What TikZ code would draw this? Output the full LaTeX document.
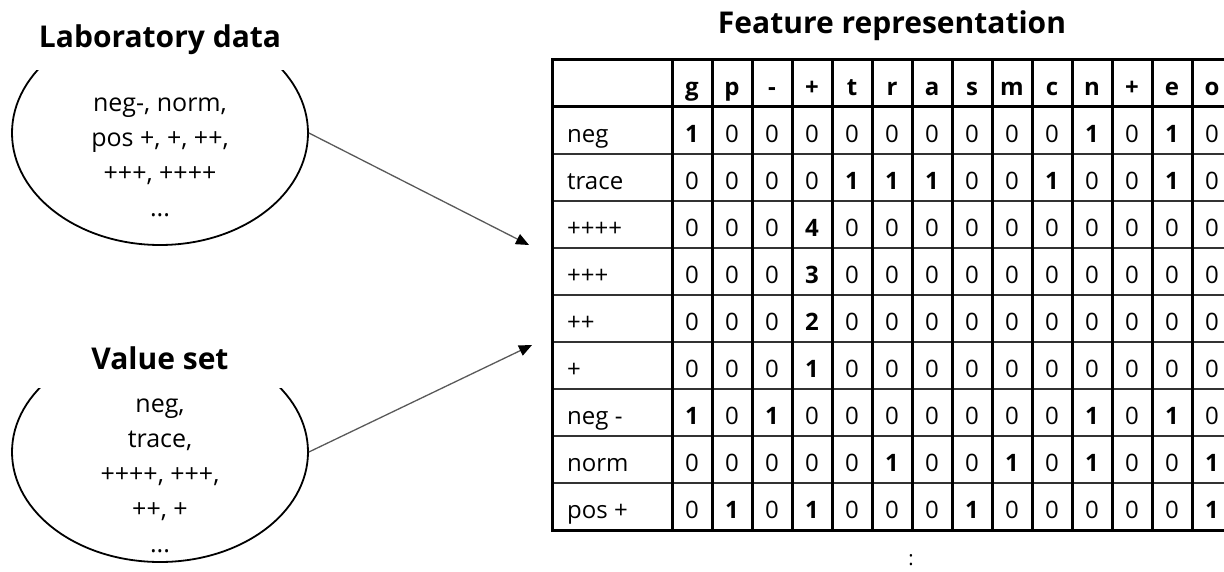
\documentclass[tikz,border=0pt]{standalone}
\usepackage{fontspec}
\setmainfont{Open Sans}
\usetikzlibrary{shapes.geometric, arrows.meta}

\tikzstyle{setbox} = [
    ellipse,
    minimum width=296pt,
    minimum height=224pt,
    inner sep=0pt,
    line width=1.8pt,
    draw=black
]
\tikzstyle{settitle} = [
    minimum width=248pt,
    minimum height=60pt,
    fill=white,
    font=\bfseries\fontsize{30}{36}\selectfont
]
\tikzstyle{settext} = [
    align=center,
    font=\fontsize{25}{35}\selectfont
]
\tikzstyle{gridline} = [line width=3pt, draw=black]
\tikzstyle{rowline} = [line width=1.8pt, draw=black!80]
\tikzstyle{colhead} = [anchor=base, font=\bfseries\fontsize{24}{28}\selectfont]
\tikzstyle{rowlabel} = [anchor=base west, inner sep=0pt, font=\fontsize{24}{28}\selectfont]
\tikzstyle{cellval} = [anchor=base, inner sep=0pt, font=\fontsize{24}{28}\selectfont]
\tikzstyle{arrow} = [line width=1.3pt, draw=black!65, -{Triangle[length=13pt,width=11pt,color=black]}]

% nonzero entries are set in bold
\newcommand{\bitval}[1]{\ifnum#1=0 0\else\textbf{#1}\fi}
% one table row: index, label, 14 values
\newcommand{\featrow}[3]{%
  \node (r#1) [rowlabel] at (567, {475.5-47*#1}) {#2};
  \foreach \v [count=\c] in {#3}
    \node (r#1c\c) [cellval] at ({652+40*\c}, {475.5-47*#1}) {\bitval{\v}};
}

\begin{document}
\begin{tikzpicture}[x=1pt, y=1pt]
\clip (0,0) rectangle (1224,571);

% left: the two sets
\node (lab) [setbox] at (160,438) {};
\node (labtitle) [settitle] at (160,531) {Laboratory data};
\node (labtext) [settext] at (160,414) {neg-, norm,\\pos +, +, ++,\\+++, ++++\\...};

\node (val) [setbox, minimum height=220pt] at (160,119) {};
\node (valtitle) [settitle] at (160,213) {Value set};
\node (valtext) [settext] at (160,95) {neg,\\trace,\\++++, +++,\\++, +\\...};

% right: the table
\node (feattitle) [font=\bfseries\fontsize{30}{36}\selectfont] at (892,545) {Feature representation};

\foreach \r in {1,...,8}
  \draw [rowline] (552,{464-47*\r}) -- (1232,{464-47*\r});
\draw [gridline] (552,464) -- (1232,464);
\draw [gridline] (672,41) -- (672,511);
\foreach \c in {1,...,13}
  \draw [gridline] ({672+40*\c},41) -- ({672+40*\c},511);
\draw [gridline] (552,41) rectangle (1232,511);

\foreach \h [count=\c] in {g,p,-,+,t,r,a,s,m,c,n,+,e,o}
  \node (h\c) [colhead] at ({652+40*\c},475) {\h};

\featrow{1}{neg}{1,0,0,0,0,0,0,0,0,0,1,0,1,0}
\featrow{2}{trace}{0,0,0,0,1,1,1,0,0,1,0,0,1,0}
\featrow{3}{++++}{0,0,0,4,0,0,0,0,0,0,0,0,0,0}
\featrow{4}{+++}{0,0,0,3,0,0,0,0,0,0,0,0,0,0}
\featrow{5}{++}{0,0,0,2,0,0,0,0,0,0,0,0,0,0}
\featrow{6}{+}{0,0,0,1,0,0,0,0,0,0,0,0,0,0}
\featrow{7}{neg -}{1,0,1,0,0,0,0,0,0,0,1,0,1,0}
\featrow{8}{norm}{0,0,0,0,0,1,0,0,1,0,1,0,0,1}
\featrow{9}{pos +}{0,1,0,1,0,0,0,1,0,0,0,0,0,1}

\node (more) [font=\fontsize{20}{24}\selectfont] at (911,11) {:};

% arrows into the table
\coordinate (tin1) at (529,326);
\coordinate (tin2) at (532,226);
\draw [arrow] (lab.east) -- (tin1);
\draw [arrow] (val.east) -- (tin2);

\end{tikzpicture}
\end{document}
